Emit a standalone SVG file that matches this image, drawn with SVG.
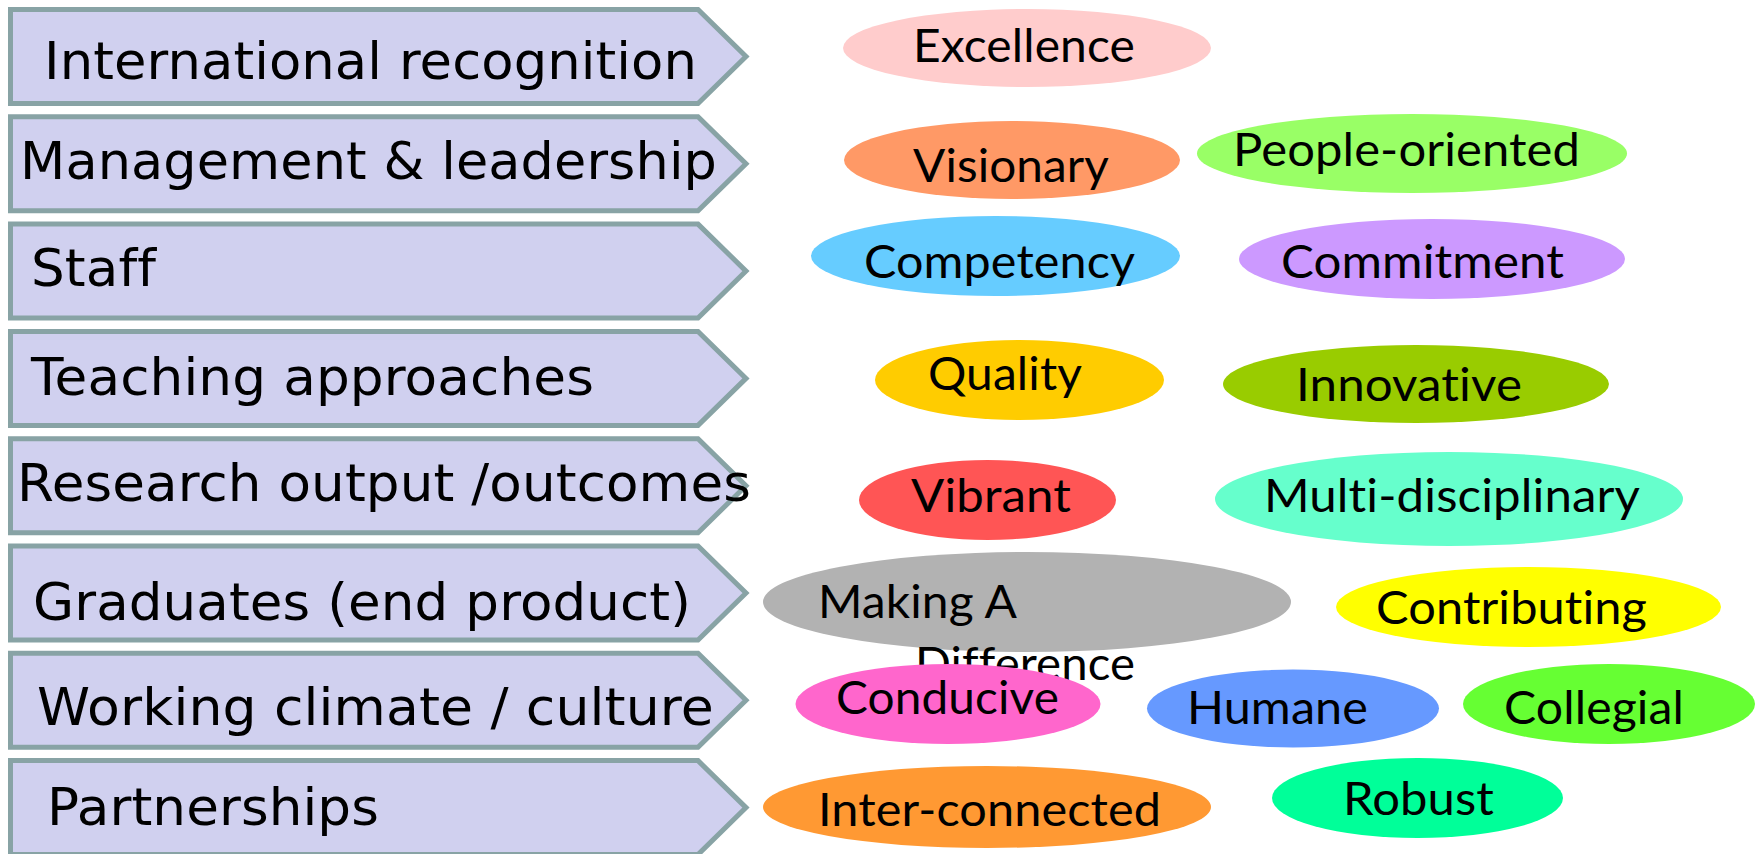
<svg xmlns="http://www.w3.org/2000/svg" width="1757" height="854" viewBox="0 0 1757 854">
<style>
.arr{fill:#D0D0EF;stroke:#88A3A5;stroke-width:5;stroke-linejoin:miter}
text{font-variant-ligatures:none;font-feature-settings:"liga" 0,"clig" 0;letter-spacing:0.1px}
.at{font-family:"DejaVu Sans",sans-serif;font-size:52px;fill:#000}
.et{font-family:Lato,"Open Sans",sans-serif;font-size:46px;fill:#000}
</style>
<defs>
<polygon id="chev" points="10.5,0 698,0 746,47 698,94 10.5,94"/>
</defs>
<rect width="1757" height="854" fill="#fff"/>
<g id="arrows">
<g id="a1"><use href="#chev" class="arr" y="9.5"/><text class="at" x="44" y="79" textLength="653" lengthAdjust="spacingAndGlyphs">International recognition</text></g>
<g id="a2"><use href="#chev" class="arr" y="116.8"/><text class="at" x="20" y="179" textLength="697" lengthAdjust="spacingAndGlyphs">Management &amp; leadership</text></g>
<g id="a3"><use href="#chev" class="arr" y="224.1"/><text class="at" x="31" y="286" textLength="125" lengthAdjust="spacingAndGlyphs">Staff</text></g>
<g id="a4"><use href="#chev" class="arr" y="331.4"/><text class="at" x="31" y="395" textLength="563" lengthAdjust="spacingAndGlyphs">Teaching approaches</text></g>
<g id="a5"><use href="#chev" class="arr" y="438.7"/><text class="at" x="17" y="501" textLength="734" lengthAdjust="spacingAndGlyphs">Research output /outcomes</text></g>
<g id="a6"><use href="#chev" class="arr" y="546"/><text class="at" x="33" y="620" textLength="658" lengthAdjust="spacingAndGlyphs">Graduates (end product)</text></g>
<g id="a7"><use href="#chev" class="arr" y="653.3"/><text class="at" x="37" y="725" textLength="677" lengthAdjust="spacingAndGlyphs">Working climate / culture</text></g>
<g id="a8"><use href="#chev" class="arr" y="760.6"/><text class="at" x="47" y="825" textLength="332" lengthAdjust="spacingAndGlyphs">Partnerships</text></g>
</g>
<g id="connectors"/>
<g id="e-excellence"><ellipse cx="1027" cy="48" rx="184" ry="39" fill="#FFCCCC"/><text class="et" x="913" y="62" textLength="222" lengthAdjust="spacingAndGlyphs">Excellence</text></g>
<g id="e-visionary"><ellipse cx="1012" cy="160" rx="168" ry="39" fill="#FF9966"/><text class="et" x="913" y="182" textLength="196" lengthAdjust="spacingAndGlyphs">Visionary</text></g>
<g id="e-people"><ellipse cx="1412" cy="153.5" rx="215" ry="39.5" fill="#99FF66"/><text class="et" x="1233" y="166" textLength="347" lengthAdjust="spacingAndGlyphs">People-oriented</text></g>
<g id="e-competency"><ellipse cx="995.5" cy="256" rx="184.5" ry="40" fill="#66CCFF"/><text class="et" x="864" y="278" textLength="271" lengthAdjust="spacingAndGlyphs">Competency</text></g>
<g id="e-commitment"><ellipse cx="1432" cy="259" rx="193" ry="40" fill="#CC99FF"/><text class="et" x="1281" y="278" textLength="283" lengthAdjust="spacingAndGlyphs">Commitment</text></g>
<g id="e-quality"><ellipse cx="1019.5" cy="380" rx="144.5" ry="40" fill="#FFCC00"/><text class="et" x="928" y="390" textLength="154" lengthAdjust="spacingAndGlyphs">Quality</text></g>
<g id="e-innovative"><ellipse cx="1416" cy="384" rx="193" ry="39" fill="#99CC00"/><text class="et" x="1296" y="401" textLength="226" lengthAdjust="spacingAndGlyphs">Innovative</text></g>
<g id="e-vibrant"><ellipse cx="987.5" cy="500" rx="128.5" ry="40" fill="#FF5555"/><text class="et" x="911" y="512" textLength="160" lengthAdjust="spacingAndGlyphs">Vibrant</text></g>
<g id="e-multi"><ellipse cx="1449" cy="499" rx="234" ry="47" fill="#66FFCC"/><text class="et" x="1264" y="512" textLength="376" lengthAdjust="spacingAndGlyphs">Multi-disciplinary</text></g>
<g id="e-making"><ellipse cx="1027" cy="602" rx="264" ry="50" fill="#B2B2B2"/><text class="et" x="818" y="618" textLength="199" lengthAdjust="spacingAndGlyphs">Making A</text><text class="et" x="915" y="680" textLength="220" lengthAdjust="spacingAndGlyphs">Difference</text></g>
<g id="e-contributing"><ellipse cx="1528.5" cy="607" rx="192.5" ry="40" fill="#FFFF00"/><text class="et" x="1376" y="624" textLength="271" lengthAdjust="spacingAndGlyphs">Contributing</text></g>
<g id="e-conducive"><ellipse cx="948" cy="704" rx="152.5" ry="40" fill="#FF66CC"/><text class="et" x="836" y="714" textLength="223" lengthAdjust="spacingAndGlyphs">Conducive</text></g>
<g id="e-humane"><ellipse cx="1293" cy="708.5" rx="146" ry="39" fill="#6699FF"/><text class="et" x="1187" y="724" textLength="181" lengthAdjust="spacingAndGlyphs">Humane</text></g>
<g id="e-collegial"><ellipse cx="1609" cy="704" rx="146" ry="40" fill="#66FF33"/><text class="et" x="1504" y="724" textLength="180" lengthAdjust="spacingAndGlyphs">Collegial</text></g>
<g id="e-interconnected"><ellipse cx="987" cy="807" rx="224" ry="41" fill="#FF9933"/><text class="et" x="818" y="826" textLength="343" lengthAdjust="spacingAndGlyphs">Inter-connected</text></g>
<g id="e-robust"><ellipse cx="1417.5" cy="798" rx="145.5" ry="40" fill="#00FF99"/><text class="et" x="1343" y="815" textLength="151" lengthAdjust="spacingAndGlyphs">Robust</text></g>
</svg>
